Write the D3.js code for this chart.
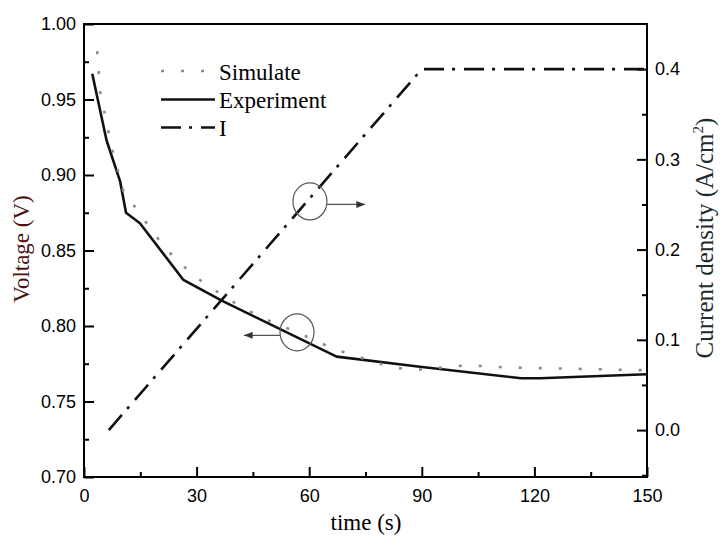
<!DOCTYPE html>
<html><head><meta charset="utf-8">
<script src="https://cdn.jsdelivr.net/npm/d3@7"></script>
<style>body{margin:0;background:#fff}svg{display:block}</style>
</head><body>
<svg id="c" width="727" height="550"></svg>
<script>
// ---- data ----
const expTime = [2.2, 6.0, 9.6, 11.2, 14.9, 26.5, 27.6, 36.7, 67.3, 89.5, 116.5, 121.5, 150];
const expVolt = [0.967, 0.923, 0.896, 0.875, 0.868, 0.8305, 0.829, 0.8168, 0.7797, 0.773, 0.7654, 0.7654, 0.768];
const simTime = [3.5, 4.3, 7.4, 10.5, 12.7, 15.6, 21.6, 29.1, 38.0, 47.3, 56.8, 66.6, 71.6, 81.5, 86.2, 91.0, 96.9, 102.2, 112.6, 123.3, 133.9, 144.6, 150];
const simVolt = [0.982, 0.955, 0.918, 0.889, 0.882, 0.8717, 0.8515, 0.8335, 0.8184, 0.8055, 0.7958, 0.7848, 0.7808, 0.773, 0.7713, 0.7712, 0.773, 0.774, 0.7726, 0.772, 0.7715, 0.7709, 0.7707];
const curTime = [6.6, 90, 150];
const curVal = [0.0, 0.4, 0.4];
const xTicks = [0, 30, 60, 90, 120, 150];
const xMinor = [15, 45, 75, 105, 135];
const yTicks = [0.70, 0.75, 0.80, 0.85, 0.90, 0.95, 1.00];
const yMinor = [0.725, 0.775, 0.825, 0.875, 0.925, 0.975];
const y2Ticks = [0.0, 0.1, 0.2, 0.3, 0.4];
const y2Minor = [-0.05, 0.05, 0.15, 0.25, 0.35];
const legendLabels = ["Simulate", "Experiment", "I"];
// annotation circles: [time, value on its own axis], arrow end time
const annoCurrent = {t: 60.2, v: 0.2534, to: 74.9};
const annoVolt = {t: 56.75, v: 0.7958, to: 42.6};

// ---- layout ----
const L = 84, R = 647, T = 24, B = 477;
const svg = d3.select("#c");
const x = d3.scaleLinear().domain([0, 150]).range([L, R]);
const y = d3.scaleLinear().domain([0.70, 1.00]).range([B, T]);
const y2 = d3.scaleLinear().domain([-0.052, 0.45]).range([B, T]);

const sans = "'Liberation Sans', Arial, sans-serif";
const serif = "'Liberation Serif', 'Times New Roman', serif";

function styleAxis(g) {
  g.select(".domain").remove();
  g.selectAll("line").attr("stroke", "#000").attr("stroke-width", 2);
  g.selectAll("text").attr("font-family", sans).attr("font-size", 18).attr("fill", "#000");
}

// axes
svg.append("g").attr("transform", `translate(0,${B})`)
  .call(d3.axisBottom(x).tickValues(xTicks).tickSize(-10).tickPadding(12).tickFormat(d3.format("d")))
  .call(styleAxis);
svg.append("g").attr("transform", `translate(0,${B})`)
  .call(d3.axisBottom(x).tickValues(xMinor).tickSize(-5).tickFormat(""))
  .call(styleAxis);
svg.append("g").attr("transform", `translate(${L},0)`)
  .call(d3.axisLeft(y).tickValues(yTicks).tickSize(-10).tickPadding(8).tickFormat(d3.format(".2f")))
  .call(styleAxis);
svg.append("g").attr("transform", `translate(${L},0)`)
  .call(d3.axisLeft(y).tickValues(yMinor).tickSize(-5).tickFormat(""))
  .call(styleAxis);
svg.append("g").attr("transform", `translate(${R},0)`)
  .call(d3.axisRight(y2).tickValues(y2Ticks).tickSize(-10).tickPadding(8).tickFormat(d3.format(".1f")))
  .call(styleAxis);
svg.append("g").attr("transform", `translate(${R},0)`)
  .call(d3.axisRight(y2).tickValues(y2Minor).tickSize(-5).tickFormat(""))
  .call(styleAxis);

// frame
svg.append("rect").attr("x", L).attr("y", T).attr("width", R - L).attr("height", B - T)
  .attr("fill", "none").attr("stroke", "#000").attr("stroke-width", 2);

// lines
const simStyle = {stroke: "#8a8a8a", width: 2.6, dash: "3,17"};
const expStyle = {stroke: "#111", width: 2.6, dash: null};
const curStyle = {stroke: "#111", width: 2.6, dash: "20,8,3,9"};

const lineV = d3.line().x(d => x(d[0])).y(d => y(d[1]));
const lineI = d3.line().x(d => x(d[0])).y(d => y2(d[1]));

svg.append("path").datum(curTime.map((t, i) => [t, curVal[i]]))
  .attr("d", lineI).attr("fill", "none").attr("stroke", curStyle.stroke)
  .attr("stroke-width", curStyle.width).attr("stroke-dasharray", curStyle.dash);
svg.append("path").datum(expTime.map((t, i) => [t, expVolt[i]]))
  .attr("d", lineV).attr("fill", "none").attr("stroke", expStyle.stroke)
  .attr("stroke-width", expStyle.width).attr("stroke-linejoin", "round");
svg.append("path").datum(simTime.map((t, i) => [t, simVolt[i]]))
  .attr("d", lineV).attr("fill", "none").attr("stroke", simStyle.stroke)
  .attr("stroke-width", simStyle.width).attr("stroke-dasharray", simStyle.dash);

// annotations
svg.append("defs").append("marker").attr("id", "ah")
  .attr("viewBox", "0 0 10 8").attr("refX", 10).attr("refY", 4)
  .attr("markerWidth", 10).attr("markerHeight", 7).attr("markerUnits", "userSpaceOnUse")
  .attr("orient", "auto")
  .append("path").attr("d", "M0,0L10,4L0,8Z").attr("fill", "#333");

function anno(a, yScale, dir) {
  const cx = x(a.t), cy = yScale(a.v);
  const rx = 17, ry = 18.5;
  svg.append("ellipse").attr("cx", cx).attr("cy", cy).attr("rx", rx).attr("ry", ry)
    .attr("fill", "none").attr("stroke", "#555").attr("stroke-width", 1.2);
  svg.append("line").attr("x1", cx + dir * rx).attr("y1", cy + 3)
    .attr("x2", x(a.to)).attr("y2", cy + 3)
    .attr("stroke", "#555").attr("stroke-width", 1.2).attr("marker-end", "url(#ah)");
}
anno(annoCurrent, y2, 1);
anno(annoVolt, y, -1);

// legend
const legStyles = [simStyle, expStyle, curStyle];
const legY = [71, 99.5, 127.5];
legendLabels.forEach((lab, i) => {
  const s = legStyles[i];
  svg.append("line").attr("x1", 161).attr("x2", 215).attr("y1", legY[i]).attr("y2", legY[i])
    .attr("stroke", s.stroke).attr("stroke-width", s.width)
    .attr("stroke-dasharray", s.dash);
  svg.append("text").attr("x", 219).attr("y", legY[i] + 8.5)
    .attr("font-family", serif).attr("font-size", 23).attr("fill", "#000").text(lab);
});

// axis titles
svg.append("text").attr("x", 366).attr("y", 530).attr("text-anchor", "middle")
  .attr("font-family", serif).attr("font-size", 23).attr("fill", "#000").text("time (s)");
svg.append("text").attr("transform", "translate(29,249) rotate(-90)").attr("text-anchor", "middle")
  .attr("font-family", serif).attr("font-size", 23).attr("fill", "#4a1212").text("Voltage (V)");
const rt = svg.append("text").attr("transform", "translate(713,238) rotate(-90)").attr("text-anchor", "middle")
  .attr("font-family", serif).attr("font-size", 25).attr("fill", "#1f2b2b");
rt.append("tspan").text("Current density (A/cm");
rt.append("tspan").attr("font-size", 15).attr("dy", -10).text("2");
rt.append("tspan").attr("dy", 10).text(")");
</script>
</body></html>
